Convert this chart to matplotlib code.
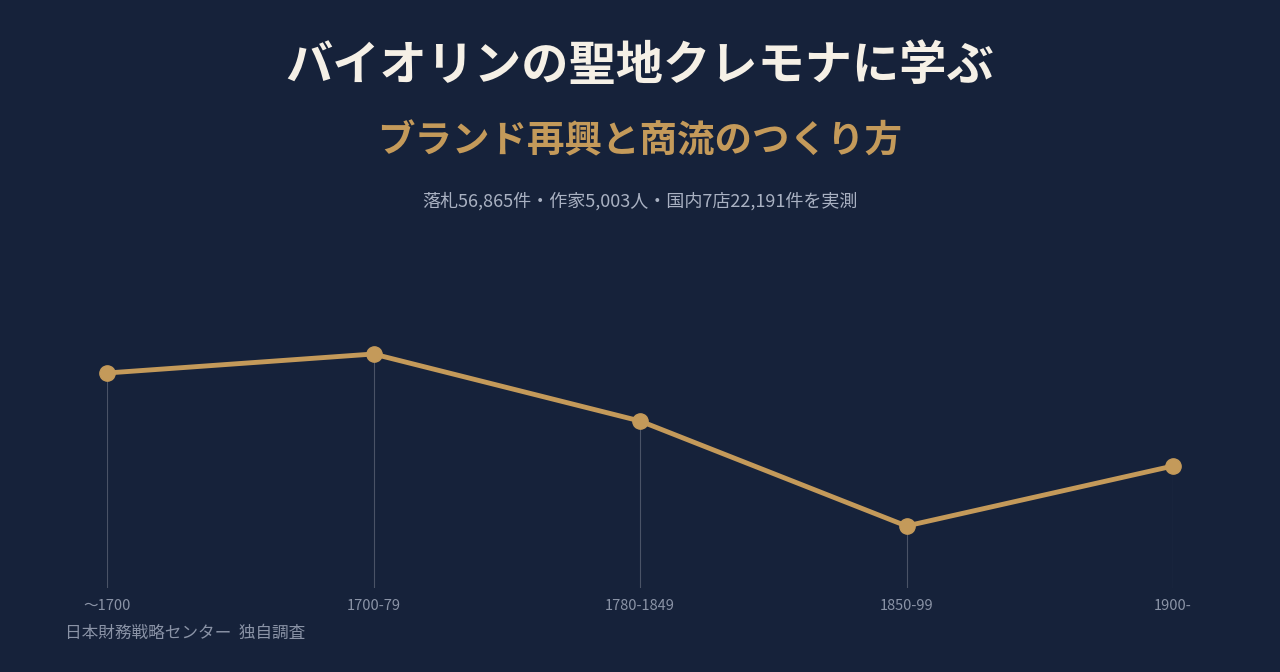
import matplotlib
matplotlib.use("Agg")
import matplotlib.pyplot as plt

categories = ["〜1700", "1700-79", "1780-1849", "1850-99", "1900-"]
values = [215, 234, 167, 62, 122]

BG = "#16223a"
GOLD = "#c49a5a"
plt.rcParams['font.family'] = ['Noto Sans CJK JP', 'DejaVu Sans']

fig = plt.figure(figsize=(12.8, 6.72), dpi=100, facecolor=BG)
ax = fig.add_axes([107/1280, 1-588/672, (1173-107)/1280, 358/672])
ax.set_facecolor(BG)
x = list(range(len(categories)))
ax.vlines(x, 0, values, color="#4a5366", lw=0.8)
ax.plot(x, values, color=GOLD, lw=3.5, marker="o", ms=11, clip_on=False, zorder=3)
ax.set_xlim(0, len(categories)-1)
ax.set_ylim(0, 358)
for s in ax.spines.values():
    s.set_visible(False)
ax.set_yticks([])
ax.set_xticks(x)
ax.set_xticklabels(categories, color="#8a93a6", fontsize=10.5)
ax.tick_params(axis="x", length=0, pad=8)

fig.text(0.5, 1-66/672, "バイオリンの聖地クレモナに学ぶ", ha="center", va="center",
         color="#f5f0e6", fontsize=34, fontweight="bold")
fig.text(0.5, 1-141/672, "ブランド再興と商流のつくり方", ha="center", va="center",
         color=GOLD, fontsize=27, fontweight="bold")
fig.text(0.5, 1-201/672, "落札56,865件・作家5,003人・国内7店22,191件を実測", ha="center", va="center",
         color="#a9b1c2", fontsize=13)
fig.text(65/1280, 1-633/672, "日本財務戦略センター  独自調査", ha="left", va="center",
         color="#8a93a6", fontsize=12)
fig.savefig("out.png", dpi=100, facecolor=BG)
